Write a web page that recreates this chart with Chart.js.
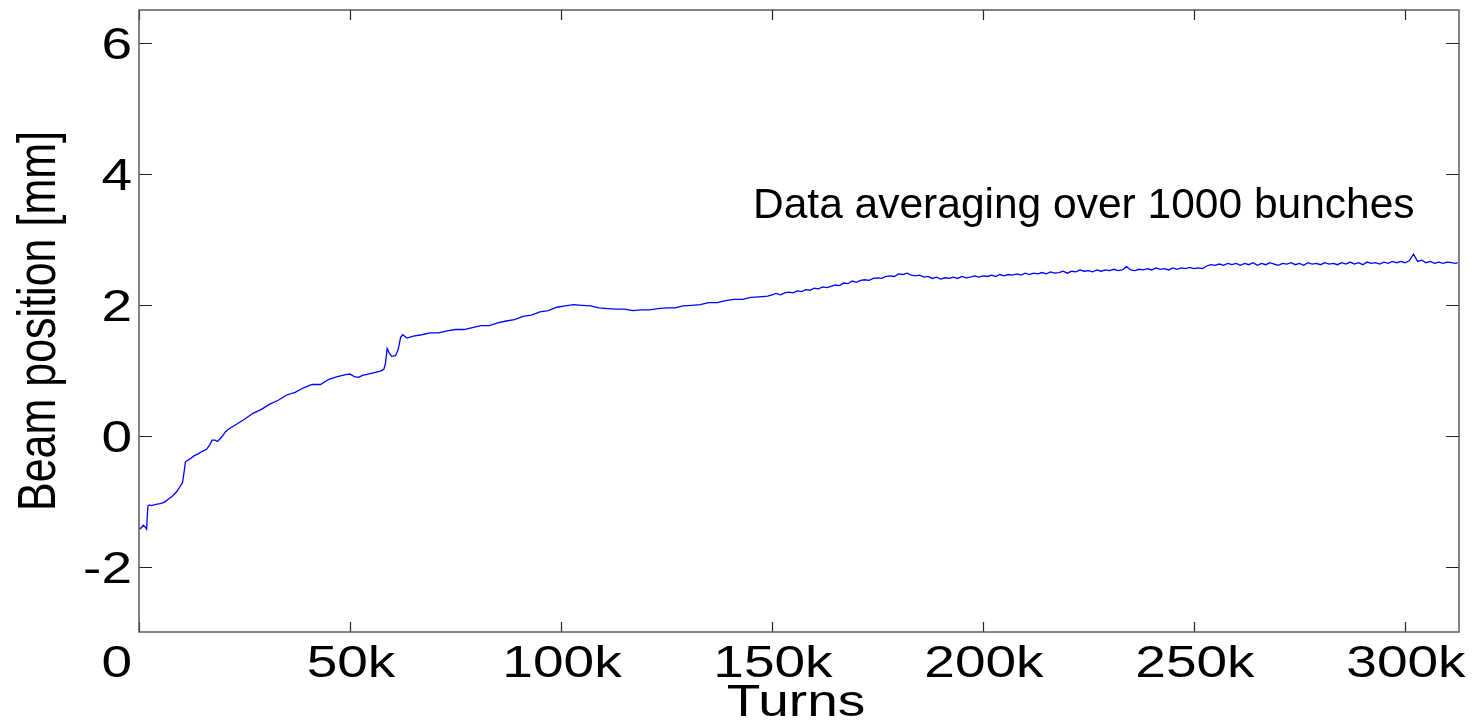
<!DOCTYPE html>
<html>
<head>
<meta charset="utf-8">
<title>Beam position vs turns</title>
<script src="https://cdn.jsdelivr.net/npm/chart.js@4.4.1/dist/chart.umd.min.js"></script>
<style>
    html, body { margin: 0; padding: 0; background: #fff; }
    canvas { display: block; }
</style>
</head>
<body>
<canvas id="beamChart" width="1478" height="723"></canvas>
<script>
// turns, in thousands
const turnsK = [
    0, 0.5, 1.0, 1.5, 1.8, 2.1, 2.5, 3, 4, 5, 6, 7, 8, 9, 9.8, 10.3, 10.7, 11, 12, 13,
    14, 15, 16, 16.8, 17.3, 18, 18.6, 19.5, 20.5,
    21, 23, 25, 27, 29, 31, 33, 35, 37, 39, 41, 43, 45, 47, 49, 50, 51, 52, 53, 55, 57,
    58, 58.4, 58.8, 59.3, 59.9, 60.8, 61.4, 62.0, 62.5, 63.5, 65, 67, 69, 71, 73, 75, 77, 79,
    81, 83, 85, 87, 89, 91, 93, 95, 97, 99, 101, 103, 105, 107, 109, 111, 113, 115, 117,
    119, 121, 123, 125, 127, 129, 131, 133, 135, 137, 139, 141, 143, 145, 147, 149,
    150, 151, 152, 153, 154, 155, 156, 157, 158, 159, 160, 161, 162, 163, 164, 165, 166, 167, 168, 169,
    170, 171, 172, 173, 174, 175, 176, 177, 178, 179, 180, 181, 182, 183, 184, 185, 186, 187, 188, 189,
    190, 191, 192, 193, 194, 195, 196, 197, 198, 199, 200, 201, 202, 203, 204, 205, 206, 207, 208, 209,
    210, 211, 212, 213, 214, 215, 216, 217, 218, 219, 220, 221, 222, 223, 224, 225, 226, 227, 228, 229,
    230, 231, 232, 233, 234, 235, 236, 237, 238, 239, 240, 241, 242, 243, 244, 245, 246, 247, 248, 249,
    250, 251, 252, 253, 254, 255, 256, 257, 258, 259, 260, 261, 262, 263, 264, 265, 266, 267, 268, 269,
    270, 271, 272, 273, 274, 275, 276, 277, 278, 279, 280, 281, 282, 283, 284, 285, 286, 287, 288, 289,
    290, 291, 292, 293, 294, 295, 296, 297, 298, 299, 300, 301, 302, 303, 304, 305, 306, 307, 308, 309,
    310, 311, 312, 312.5
];

// beam position in mm, averaged over 1000 bunches
const positionMm = [
    -1.43, -1.41, -1.37, -1.40, -1.43, -1.08, -1.06, -1.07, -1.05, -1.04, -1.02, -0.97, -0.92, -0.85, -0.77, -0.72, -0.55, -0.40, -0.36, -0.31,
    -0.28, -0.24, -0.21, -0.14, -0.07, -0.07, -0.09, -0.03, 0.06,
    0.09, 0.17, 0.25, 0.34, 0.40, 0.48, 0.54, 0.62, 0.66, 0.73, 0.78, 0.78, 0.86, 0.90, 0.93, 0.94, 0.90, 0.89, 0.92, 0.95, 0.98,
    1.01, 1.10, 1.33, 1.26, 1.21, 1.22, 1.31, 1.50, 1.54, 1.49, 1.52, 1.54, 1.57, 1.57, 1.60, 1.62, 1.62, 1.65,
    1.68, 1.68, 1.72, 1.75, 1.77, 1.82, 1.84, 1.89, 1.91, 1.96, 1.98, 2.00, 1.99, 1.98, 1.95, 1.94, 1.93, 1.93, 1.91,
    1.92, 1.92, 1.94, 1.95, 1.95, 1.98, 1.99, 2.00, 2.03, 2.03, 2.06, 2.08, 2.08, 2.11, 2.12, 2.13,
    2.15, 2.17, 2.15, 2.18, 2.19, 2.18, 2.21, 2.20, 2.23, 2.22, 2.25, 2.24, 2.27, 2.26, 2.28, 2.30, 2.29, 2.33, 2.32, 2.36,
    2.34, 2.37, 2.38, 2.37, 2.40, 2.41, 2.40, 2.43, 2.44, 2.43, 2.47, 2.46, 2.48, 2.45, 2.44, 2.45, 2.42, 2.43, 2.40, 2.42,
    2.39, 2.41, 2.40, 2.42, 2.40, 2.43, 2.41, 2.42, 2.44, 2.42, 2.44, 2.43, 2.45, 2.43, 2.46, 2.44, 2.46, 2.45, 2.47, 2.45,
    2.48, 2.46, 2.48, 2.47, 2.49, 2.47, 2.50, 2.48, 2.49, 2.51, 2.48, 2.51, 2.50, 2.53, 2.51, 2.52, 2.50, 2.53, 2.51, 2.53,
    2.52, 2.54, 2.52, 2.53, 2.58, 2.53, 2.52, 2.54, 2.53, 2.55, 2.53, 2.56, 2.54, 2.55, 2.53, 2.56, 2.54, 2.56, 2.55, 2.57,
    2.55, 2.56, 2.55, 2.59, 2.61, 2.60, 2.62, 2.60, 2.63, 2.61, 2.63, 2.60, 2.63, 2.61, 2.64, 2.60, 2.63, 2.61, 2.64, 2.62,
    2.60, 2.63, 2.62, 2.64, 2.61, 2.63, 2.60, 2.64, 2.62, 2.63, 2.61, 2.64, 2.62, 2.63, 2.61, 2.64, 2.62, 2.65, 2.62, 2.64,
    2.61, 2.65, 2.63, 2.64, 2.62, 2.65, 2.63, 2.66, 2.64, 2.66, 2.64, 2.67, 2.77, 2.66, 2.68, 2.64, 2.66, 2.63, 2.65, 2.63,
    2.65, 2.64, 2.63, 2.64
];

const xTicks = [0, 50, 100, 150, 200, 250, 300];
const xTickLabels = ['0', '50k', '100k', '150k', '200k', '250k', '300k'];
const yTicks = [-2, 0, 2, 4, 6];
const yTickLabels = ['-2', '0', '2', '4', '6'];

const xLabel = 'Turns';
const yLabel = 'Beam position [mm]';
const noteText = 'Data averaging over 1000 bunches';
const notePos = { x: 145.5, y: 3.32 };

const TEXT_STRETCH = 1.25;

// frame, inward ticks, labels and the note, drawn on top of the line
const framePlugin = {
    id: 'frame',
    afterDraw(chart) {
        const ctx = chart.ctx;
        const area = chart.chartArea;
        const xs = chart.scales.x;
        const ys = chart.scales.y;

        ctx.save();

        // ticks
        ctx.strokeStyle = '#222';
        ctx.lineWidth = 1.2;
        ctx.beginPath();
        xTicks.forEach(v => {
            const px = Math.round(xs.getPixelForValue(v)) + 0.5;
            ctx.moveTo(px, area.bottom);
            ctx.lineTo(px, area.bottom - 10);
            ctx.moveTo(px, area.top);
            ctx.lineTo(px, area.top + 10);
        });
        yTicks.forEach(v => {
            const py = Math.round(ys.getPixelForValue(v)) + 0.5;
            ctx.moveTo(area.left, py);
            ctx.lineTo(area.left + 13, py);
            ctx.moveTo(area.right, py);
            ctx.lineTo(area.right - 13, py);
        });
        ctx.stroke();

        // box
        ctx.strokeStyle = '#5a5a5a';
        ctx.lineWidth = 1.5;
        ctx.strokeRect(area.left, area.top, area.right - area.left, area.bottom - area.top);

        ctx.fillStyle = '#000';
        ctx.font = '44px "Liberation Sans", Arial, sans-serif';
        ctx.textBaseline = 'alphabetic';

        const stretched = (text, x, y, align) => {
            ctx.save();
            ctx.translate(x, y);
            ctx.scale(TEXT_STRETCH, 1);
            ctx.textAlign = align;
            ctx.fillText(text, 0, 0);
            ctx.restore();
        };

        // x tick labels (the 0 sits in the y label column)
        xTicks.forEach((v, i) => {
            const px = xs.getPixelForValue(v);
            if (v === 0) {
                stretched(xTickLabels[i], area.left - 7, area.bottom + 45, 'right');
            } else {
                stretched(xTickLabels[i], px + 1, area.bottom + 45, 'center');
            }
        });

        // y tick labels
        yTicks.forEach((v, i) => {
            const py = ys.getPixelForValue(v);
            stretched(yTickLabels[i], area.left - 7, py + 16, 'right');
        });

        // axis titles
        ctx.font = '44px "Liberation Sans", Arial, sans-serif';
        stretched(xLabel, (area.left + area.right) / 2 - 3, area.bottom + 84, 'center');

        ctx.font = '43px "Liberation Sans", Arial, sans-serif';
        ctx.save();
        ctx.translate(55, (area.top + area.bottom) / 2);
        ctx.scale(TEXT_STRETCH, 1);
        ctx.rotate(-Math.PI / 2);
        ctx.textAlign = 'center';
        ctx.fillText(yLabel, 0, 0);
        ctx.restore();

        // note
        ctx.font = '42.5px "Liberation Sans", Arial, sans-serif';
        ctx.textAlign = 'left';
        ctx.fillText(noteText, xs.getPixelForValue(notePos.x), ys.getPixelForValue(notePos.y));

        ctx.restore();
    }
};

const points = turnsK.map((t, i) => ({ x: t, y: positionMm[i] }));

new Chart(document.getElementById('beamChart'), {
    type: 'line',
    data: {
        datasets: [{
            data: points,
            borderColor: '#0000ff',
            borderWidth: 1.3,
            pointRadius: 0,
            tension: 0,
            fill: false
        }]
    },
    options: {
        responsive: false,
        animation: false,
        layout: {
            padding: { left: 139, top: 10, right: 19, bottom: 91 }
        },
        plugins: {
            legend: { display: false },
            tooltip: { enabled: false }
        },
        scales: {
            x: {
                type: 'linear',
                min: 0,
                max: 312.8,
                display: false
            },
            y: {
                type: 'linear',
                min: -3,
                max: 6.5,
                display: false
            }
        }
    },
    plugins: [framePlugin]
});
</script>
</body>
</html>
